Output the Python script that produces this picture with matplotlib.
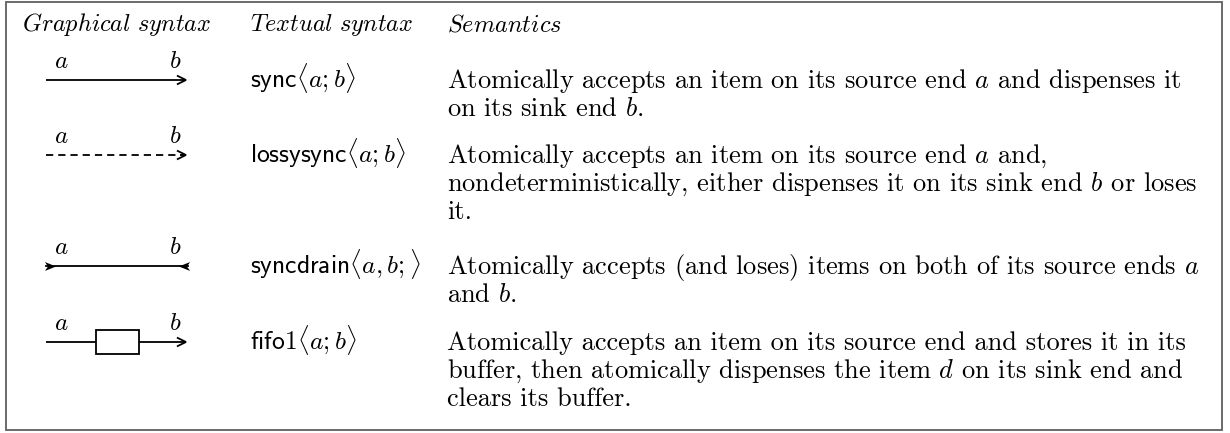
import matplotlib.pyplot as plt
from matplotlib.patches import FancyArrowPatch, Rectangle
from matplotlib.path import Path

plt.rcParams["mathtext.fontset"] = "cm"
plt.rcParams["font.family"] = "cmr10"
plt.rcParams["lines.scale_dashes"] = False

# table content
headers = [r"$\mathit{Graphical\ syntax}$", r"$\mathit{Textual\ syntax}$",
           r"$\mathit{Semantics}$"]
names = ["sync", "lossysync", "syncdrain", "fifo1"]
signatures = [r"\langle a;b\rangle", r"\langle a;b\rangle",
              r"\langle a,b;\rangle", r"\langle a;b\rangle"]
end_labels = ["a", "b"]
semantics = [
    ["Atomically accepts an item on its source end $a$ and dispenses it",
     "on its sink end $b$."],
    ["Atomically accepts an item on its source end $a$ and,",
     "nondeterministically, either dispenses it on its sink end $b$ or loses",
     "it."],
    ["Atomically accepts (and loses) items on both of its source ends $a$",
     "and $b$."],
    ["Atomically accepts an item on its source end and stores it in its",
     "buffer, then atomically dispenses the item $d$ on its sink end and",
     "clears its buffer."],
]

# layout, in pixels
W, H = 1230, 433
FS_HEAD, FS_TEXT, FS_SIG, FS_LAB = 17.5, 19, 18.4, 18
col_x = [22, 250, 447]
header_y = 31
row_y = [88, 163, 274, 350]
line_step = 28
x0, x1 = 46, 188
label_x = [61, 175]
box_x, box_w, box_h = 96, 43, 24
LW = 1.3

fig = plt.figure(figsize=(W / 100, H / 100), dpi=100)
ax = fig.add_axes([0, 0, 1, 1])
ax.set_xlim(0, W)
ax.set_ylim(H, 0)
ax.axis("off")

ax.add_patch(Rectangle((6, 1.5), 1216, 428.5, fill=False, ec="#606060", lw=1.3))

for x, h in zip(col_x, headers):
    ax.text(x, header_y, h, fontsize=FS_HEAD, va="baseline")

stealth = Path([(1, 0), (-1, 0.8), (-0.45, 0), (-1, -0.8), (1, 0)],
               [Path.MOVETO, Path.LINETO, Path.LINETO, Path.LINETO, Path.CLOSEPOLY])
stealth_l = Path([(-x, y) for x, y in stealth.vertices], stealth.codes)


def head(xa, xb, y):
    ax.add_patch(FancyArrowPatch((xa, y), (xb, y), mutation_scale=1,
                                 arrowstyle="->,head_length=6.5,head_width=3.2",
                                 lw=LW, color="black", shrinkA=0, shrinkB=0,
                                 capstyle="butt", joinstyle="miter", zorder=3))


for i, name in enumerate(names):
    base = row_y[i]
    y = base - 8
    # graphical column
    if name == "lossysync":
        ax.plot([x0, x1 - 4], [y, y], color="black", lw=LW, ls=(0, (5.2, 3.6)),
                solid_capstyle="butt", dash_capstyle="butt")
        head(x1 - 8, x1, y)
    elif name == "syncdrain":
        ax.plot([x0, x1], [y, y], color="black", lw=LW)
        ax.plot([x0 + 4], [y], marker=stealth, ms=8, color="black", mew=0)
        ax.plot([x1 - 4], [y], marker=stealth_l, ms=8, color="black", mew=0)
    else:
        head(x0, x1, y)
    if name == "fifo1":
        ax.add_patch(Rectangle((box_x, y - box_h / 2), box_w, box_h, fc="white",
                               ec="black", lw=LW, zorder=4))
    for lx, lab in zip(label_x, end_labels):
        ax.text(lx, y - 12, "$%s$" % lab, fontsize=FS_LAB, ha="center", va="baseline")
    # textual column
    ax.text(col_x[1], base, r"$\mathsf{%s}%s$" % (name, signatures[i]),
            fontsize=FS_SIG, va="baseline")
    # semantics column
    for j, line in enumerate(semantics[i]):
        ax.text(col_x[2], base + j * line_step, line, fontsize=FS_TEXT, va="baseline")

fig.savefig("out.png", dpi=100)
